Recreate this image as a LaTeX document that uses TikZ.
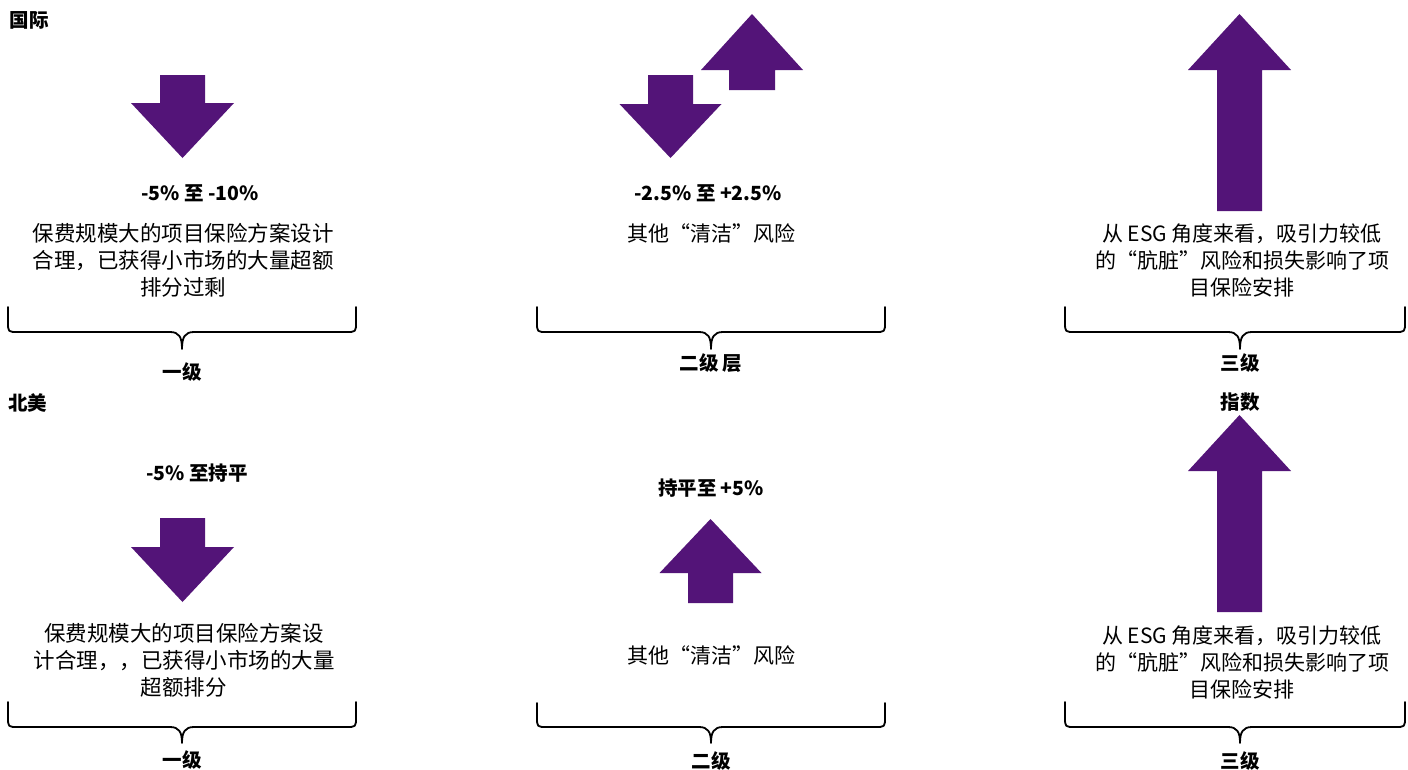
\documentclass[tikz,border=0pt]{standalone}
\usepackage{fontspec}
\setmainfont{Noto Sans CJK SC}
\definecolor{ap}{HTML}{531478}
\newcommand{\DArrow}[6]{% cx, shaft half, head half, top, base, tip
  \fill[arrowfill] ({#1-#2},#4) -- ({#1+#2},#4) -- ({#1+#2},#5) -- ({#1+#3},#5) -- (#1,#6) -- ({#1-#3},#5) -- ({#1-#2},#5) -- cycle;}
\newcommand{\UArrow}[6]{% cx, shaft half, head half, bottom, base, tip
  \fill[arrowfill] ({#1-#2},#4) -- ({#1+#2},#4) -- ({#1+#2},#5) -- ({#1+#3},#5) -- (#1,#6) -- ({#1-#3},#5) -- ({#1-#2},#5) -- cycle;}
\newcommand{\BraceShape}[6]{% x1, x2, cx, top, mid, tip
  \draw[bracestroke] (#1,#4) -- (#1,{#5-10}) .. controls (#1,#5) .. ({#1+10},#5) -- ({#3-12},#5)
    .. controls ({#3-3},#5) and (#3,{#5+5}) .. (#3,#6)
    .. controls (#3,{#5+5}) and ({#3+3},#5) .. ({#3+12},#5) -- ({#2-10},#5)
    .. controls (#2,#5) .. (#2,{#5-10}) -- (#2,#4);}
\begin{document}
\begin{tikzpicture}[x=1pt,y=-1pt,
  arrowfill/.style={fill=ap, draw=none},
  bracestroke/.style={line width=1.8pt, line join=round, line cap=round},
  lbl/.style={font=\fontsize{19.5}{26}\selectfont\bfseries, inner sep=0pt},
  desc/.style={font=\fontsize{21.5}{27}\selectfont, align=center, inner sep=0pt},
  descr/.style={font=\fontsize{21}{27}\selectfont, align=center, inner sep=0pt},
  hdr/.style={font=\fontsize{19.5}{26}\selectfont\bfseries, inner sep=0pt}]
\useasboundingbox (0,0) rectangle (1408,769);

% ---------- top row ----------
\node[hdr] (intl) at (29,20) {国际};

\DArrow{182.5}{22.5}{51.5}{75}{103}{158}
\node[lbl] (t1lbl) at (200,193) {-5\% 至 -10\%};
\node[desc] (t1desc) at (183,260) {保费规模大的项目保险方案设计\\合理，已获得小市场的大量超额\\排分过剩};
\BraceShape{8}{356}{182}{307}{332}{349}
\node[hdr] (t1lvl) at (182,372) {一级};

\DArrow{670.5}{22.5}{51}{75}{104}{158}
\UArrow{752}{23}{51}{90}{70}{14}
\node[lbl] (t2lbl) at (708,193) {-2.5\% 至 +2.5\%};
\node[descr] (t2desc) at (711,233) {其他“清洁”风险};
\BraceShape{537}{885}{711}{307}{332}{349}
\node[hdr] (t2lvl) at (711,363) {二级 层};

\UArrow{1239.5}{22.5}{51.5}{211}{70}{14}
\node[descr] (t3desc) at (1242,260) {从 ESG 角度来看，吸引力较低\\的“肮脏”风险和损失影响了项\\目保险安排};
\BraceShape{1065}{1405}{1240}{307}{332}{349}
\node[hdr] (t3lvl) at (1240,363) {三级};
\node[hdr] (t3idx) at (1240,402) {指数};

% ---------- bottom row ----------
\node[hdr] (na) at (28,403) {北美};

\node[lbl] (b1lbl) at (197,473) {-5\% 至持平};
\DArrow{182.5}{22.5}{51.5}{518}{547}{602}
\node[desc] (b1desc) at (184,660) {保费规模大的项目保险方案设\\计合理，，已获得小市场的大量\\超额排分};
\BraceShape{8}{356}{182}{702}{727}{743}
\node[hdr] (b1lvl) at (182,760) {一级};

\node[lbl] (b2lbl) at (711,488) {持平至 +5\%};
\UArrow{710.5}{22.5}{51}{603}{573}{519}
\node[descr] (b2desc) at (711,655) {其他“清洁”风险};
\BraceShape{537}{885}{711}{703}{727}{743}
\node[hdr] (b2lvl) at (711,761) {二级};

\UArrow{1239.5}{22.5}{51.5}{612}{471}{415}
\node[descr] (b3desc) at (1242,662) {从 ESG 角度来看，吸引力较低\\的“肮脏”风险和损失影响了项\\目保险安排};
\BraceShape{1065}{1405}{1240}{702}{727}{743}
\node[hdr] (b3lvl) at (1240,761) {三级};
\end{tikzpicture}
\end{document}
